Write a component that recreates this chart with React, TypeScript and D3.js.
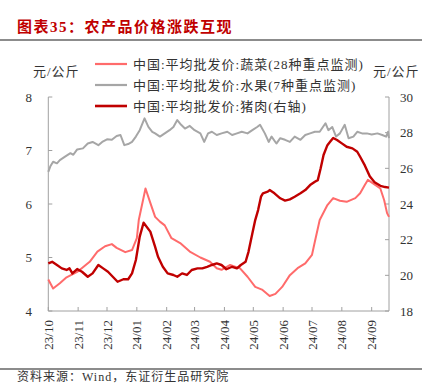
import React from "react";
import * as d3 from "d3";

const titleText = "图表35：农产品价格涨跌互现";
const sourceText = "资料来源：Wind，东证衍生品研究院";
const unitText = "元/公斤";
const legendLabels = [
  "中国:平均批发价:蔬菜(28种重点监测)",
  "中国:平均批发价:水果(7种重点监测)",
  "中国:平均批发价:猪肉(右轴)",
];
const xTickLabels = ["23/10", "23/11", "23/12", "24/01", "24/02", "24/03", "24/04", "24/05", "24/06", "24/07", "24/08", "24/09"];
const xTickDates = ["2023-10-01", "2023-11-01", "2023-12-01", "2024-01-01", "2024-02-01", "2024-03-01", "2024-04-01", "2024-05-01", "2024-06-01", "2024-07-01", "2024-08-01", "2024-09-01"];
const leftTicks = [4, 5, 6, 7, 8];
const rightTicks = [18, 20, 22, 24, 26, 28, 30];

const vegetables: [string, number][] = [
  ["2023-10-01", 4.59], ["2023-10-06", 4.42], ["2023-10-13", 4.52], ["2023-10-20", 4.63], ["2023-10-31", 4.73],
  ["2023-11-13", 4.92], ["2023-11-21", 5.11], ["2023-11-29", 5.21], ["2023-12-06", 5.25], ["2023-12-11", 5.18],
  ["2023-12-20", 5.10], ["2023-12-27", 5.14], ["2024-01-01", 5.36], ["2024-01-03", 5.70], ["2024-01-10", 6.29],
  ["2024-01-15", 6.02], ["2024-01-20", 5.76], ["2024-01-25", 5.67], ["2024-01-30", 5.60], ["2024-02-06", 5.36],
  ["2024-02-15", 5.27], ["2024-02-25", 5.11], ["2024-03-07", 5.00], ["2024-03-17", 4.92], ["2024-03-24", 4.80],
  ["2024-03-29", 4.77], ["2024-04-07", 4.86], ["2024-04-12", 4.83], ["2024-04-17", 4.80], ["2024-04-25", 4.64],
  ["2024-05-03", 4.45], ["2024-05-10", 4.40], ["2024-05-18", 4.28], ["2024-05-24", 4.32], ["2024-05-31", 4.45],
  ["2024-06-08", 4.67], ["2024-06-16", 4.80], ["2024-06-24", 4.89], ["2024-07-01", 5.05], ["2024-07-04", 5.30],
  ["2024-07-09", 5.70], ["2024-07-17", 5.98], ["2024-07-23", 6.11], ["2024-07-30", 6.06], ["2024-08-06", 6.04],
  ["2024-08-15", 6.11], ["2024-08-20", 6.20], ["2024-08-25", 6.36], ["2024-08-28", 6.45], ["2024-09-02", 6.39],
  ["2024-09-10", 6.29], ["2024-09-14", 6.07], ["2024-09-17", 5.83], ["2024-09-19", 5.76],
];

const fruits: [string, number][] = [
  ["2023-10-01", 6.60], ["2023-10-03", 6.70], ["2023-10-06", 6.79], ["2023-10-10", 6.76], ["2023-10-13", 6.82],
  ["2023-10-18", 6.88], ["2023-10-24", 6.95], ["2023-10-27", 6.92], ["2023-10-31", 7.02], ["2023-11-06", 7.04],
  ["2023-11-11", 7.13], ["2023-11-16", 7.16], ["2023-11-22", 7.10], ["2023-11-26", 7.16], ["2023-12-01", 7.21],
  ["2023-12-06", 7.20], ["2023-12-11", 7.27], ["2023-12-15", 7.29], ["2023-12-19", 7.10], ["2023-12-23", 7.12],
  ["2023-12-27", 7.16], ["2023-12-31", 7.26], ["2024-01-04", 7.38], ["2024-01-09", 7.60], ["2024-01-13", 7.44],
  ["2024-01-17", 7.35], ["2024-01-20", 7.32], ["2024-01-25", 7.26], ["2024-01-30", 7.32], ["2024-02-04", 7.38],
  ["2024-02-08", 7.44], ["2024-02-12", 7.57], ["2024-02-16", 7.48], ["2024-02-20", 7.41], ["2024-02-25", 7.46],
  ["2024-03-01", 7.38], ["2024-03-07", 7.32], ["2024-03-11", 7.16], ["2024-03-15", 7.32], ["2024-03-19", 7.35],
  ["2024-03-24", 7.29], ["2024-03-29", 7.32], ["2024-04-04", 7.35], ["2024-04-09", 7.29], ["2024-04-14", 7.32],
  ["2024-04-19", 7.35], ["2024-04-25", 7.32], ["2024-04-30", 7.38], ["2024-05-05", 7.44], ["2024-05-08", 7.48],
  ["2024-05-13", 7.32], ["2024-05-17", 7.16], ["2024-05-20", 7.26], ["2024-05-25", 7.13], ["2024-05-29", 7.23],
  ["2024-06-03", 7.20], ["2024-06-08", 7.16], ["2024-06-13", 7.26], ["2024-06-19", 7.20], ["2024-06-24", 7.29],
  ["2024-06-29", 7.32], ["2024-07-04", 7.35], ["2024-07-09", 7.35], ["2024-07-15", 7.51], ["2024-07-18", 7.38],
  ["2024-07-22", 7.44], ["2024-07-26", 7.26], ["2024-07-30", 7.32], ["2024-08-04", 7.48], ["2024-08-08", 7.23],
  ["2024-08-13", 7.26], ["2024-08-17", 7.35], ["2024-08-22", 7.32], ["2024-08-27", 7.32], ["2024-09-01", 7.30],
  ["2024-09-07", 7.32], ["2024-09-12", 7.29], ["2024-09-16", 7.26], ["2024-09-18", 7.35], ["2024-09-19", 7.23],
];

const pork: [string, number][] = [
  ["2023-10-01", 20.67], ["2023-10-05", 20.76], ["2023-10-10", 20.58], ["2023-10-15", 20.39], ["2023-10-20", 20.30],
  ["2023-10-23", 20.39], ["2023-10-26", 20.11], ["2023-10-31", 20.35], ["2023-11-05", 20.20], ["2023-11-11", 19.92],
  ["2023-11-16", 20.11], ["2023-11-22", 20.58], ["2023-11-27", 20.39], ["2023-12-02", 20.20], ["2023-12-07", 19.92],
  ["2023-12-12", 19.64], ["2023-12-18", 19.78], ["2023-12-23", 19.78], ["2023-12-27", 20.11], ["2023-12-31", 20.86],
  ["2024-01-04", 22.17], ["2024-01-08", 22.95], ["2024-01-15", 22.45], ["2024-01-20", 21.60], ["2024-01-23", 21.04],
  ["2024-01-28", 20.48], ["2024-02-02", 20.11], ["2024-02-08", 20.02], ["2024-02-12", 19.92], ["2024-02-17", 20.11],
  ["2024-02-22", 20.02], ["2024-02-27", 20.30], ["2024-03-04", 20.39], ["2024-03-09", 20.39], ["2024-03-14", 20.48],
  ["2024-03-19", 20.58], ["2024-03-24", 20.67], ["2024-03-29", 20.58], ["2024-04-03", 20.34], ["2024-04-09", 20.48],
  ["2024-04-14", 20.39], ["2024-04-18", 20.58], ["2024-04-23", 20.76], ["2024-04-26", 21.32], ["2024-04-30", 22.35],
  ["2024-05-03", 23.10], ["2024-05-06", 23.66], ["2024-05-09", 24.41], ["2024-05-11", 24.60], ["2024-05-16", 24.69],
  ["2024-05-18", 24.78], ["2024-05-23", 24.60], ["2024-05-29", 24.32], ["2024-06-03", 24.19], ["2024-06-08", 24.26],
  ["2024-06-13", 24.41], ["2024-06-19", 24.60], ["2024-06-24", 24.78], ["2024-06-29", 25.06], ["2024-07-04", 25.25],
  ["2024-07-07", 25.34], ["2024-07-10", 26.00], ["2024-07-13", 26.75], ["2024-07-17", 27.30], ["2024-07-20", 27.50],
  ["2024-07-23", 27.70], ["2024-07-27", 27.59], ["2024-08-01", 27.40], ["2024-08-06", 27.21], ["2024-08-12", 27.12],
  ["2024-08-17", 26.93], ["2024-08-20", 26.65], ["2024-08-25", 26.15], ["2024-08-30", 25.55], ["2024-09-04", 25.22],
  ["2024-09-10", 25.02], ["2024-09-15", 24.95], ["2024-09-19", 24.92],
];

const W = 432;
const H = 384;
const plot = { left: 48.3, right: 389, top: 97, bottom: 311 };
const serif = "'Liberation Serif', 'DejaVu Serif', 'Noto Sans CJK SC', serif";
const cjk = "'Liberation Serif', 'Noto Sans CJK SC', sans-serif";
const axisColor = "#a0a0a0";

export default function App() {
  const parse = d3.timeParse("%Y-%m-%d");
  const x = d3
    .scaleTime()
    .domain([parse("2023-10-01")!, parse("2024-09-19")!])
    .range([plot.left, plot.right]);
  const yL = d3.scaleLinear().domain([4, 8]).range([plot.bottom, plot.top]);
  const yR = d3.scaleLinear().domain([18, 30]).range([plot.bottom, plot.top]);

  const lineL = d3
    .line<[string, number]>()
    .x((d) => x(parse(d[0])!))
    .y((d) => yL(d[1]));
  const lineR = d3
    .line<[string, number]>()
    .x((d) => x(parse(d[0])!))
    .y((d) => yR(d[1]));

  const legendColors = ["#ff6b6b", "#a6a6a6", "#c00000"];
  const legendY = [64, 85, 106];

  return (
    <svg
      width={W}
      height={H}
      style={{ position: "absolute", left: 0, top: 0, background: "#fff" }}
    >
      <rect x={0} y={0} width={W} height={H} fill="#fff" />
      <text
        x={17}
        y={32}
        fontFamily={cjk}
        fontSize={15}
        fontWeight="bold"
        letterSpacing={1.5}
        fill="#c00000"
      >
        {titleText}
      </text>
      <line x1={0} x2={422} y1={40} y2={40} stroke="#8c8c8c" strokeWidth={2} />

      {/* units */}
      <text x={33} y={76} fontFamily={cjk} fontSize={13} letterSpacing={1} fill="#333">
        {unitText}
      </text>
      <text x={373} y={76} fontFamily={cjk} fontSize={13} letterSpacing={1} fill="#333">
        {unitText}
      </text>

      {/* axes */}
      <g stroke={axisColor} strokeWidth={1} fill="none">
        <line x1={plot.left} x2={plot.left} y1={plot.top} y2={plot.bottom} />
        <line x1={plot.right} x2={plot.right} y1={plot.top} y2={plot.bottom} />
        <line x1={plot.left} x2={plot.right} y1={plot.bottom} y2={plot.bottom} />
        {leftTicks.map((t) => (
          <line key={"lt" + t} x1={plot.left} x2={plot.left + 4} y1={yL(t)} y2={yL(t)} />
        ))}
        {rightTicks.map((t) => (
          <line key={"rt" + t} x1={plot.right - 4} x2={plot.right} y1={yR(t)} y2={yR(t)} />
        ))}
        {xTickDates.map((d) => (
          <line key={"xt" + d} x1={x(parse(d)!)} x2={x(parse(d)!)} y1={plot.bottom} y2={plot.bottom - 4} />
        ))}
      </g>
      {leftTicks.map((t) => (
        <text key={"ll" + t} x={32} y={yL(t) + 4.5} textAnchor="end" fontFamily={serif} fontSize={13} fill="#333">
          {t}
        </text>
      ))}
      {rightTicks.map((t) => (
        <text key={"rl" + t} x={400} y={yR(t) + 4.5} textAnchor="start" fontFamily={serif} fontSize={13} fill="#333">
          {t}
        </text>
      ))}
      {xTickDates.map((d, i) => {
        const px = x(parse(d)!);
        return (
          <text
            key={"xl" + d}
            transform={`translate(${px + 4.5},320) rotate(-90)`}
            textAnchor="end"
            fontFamily={serif}
            fontSize={13}
            fill="#333"
          >
            {xTickLabels[i]}
          </text>
        );
      })}

      {/* series */}
      <path d={lineL(fruits) || ""} fill="none" stroke="#a6a6a6" strokeWidth={2} strokeLinejoin="round" />
      <path d={lineL(vegetables) || ""} fill="none" stroke="#ff6b6b" strokeWidth={2} strokeLinejoin="round" />
      <path d={lineR(pork) || ""} fill="none" stroke="#c00000" strokeWidth={2.4} strokeLinejoin="round" />

      {/* legend */}
      {legendLabels.map((l, i) => (
        <g key={"lg" + i}>
          <line x1={95} x2={127} y1={legendY[i]} y2={legendY[i]} stroke={legendColors[i]} strokeWidth={i === 2 ? 2.6 : 2.2} />
          <text x={133} y={legendY[i] + 4.5} fontFamily={cjk} fontSize={13} letterSpacing={1} fill="#333">
            {l}
          </text>
        </g>
      ))}

      <line x1={0} x2={422} y1={369} y2={369} stroke="#8c8c8c" strokeWidth={2} />
      <text x={17} y={381} fontFamily={cjk} fontSize={12} letterSpacing={1} fill="#333">
        {sourceText}
      </text>
    </svg>
  );
}
